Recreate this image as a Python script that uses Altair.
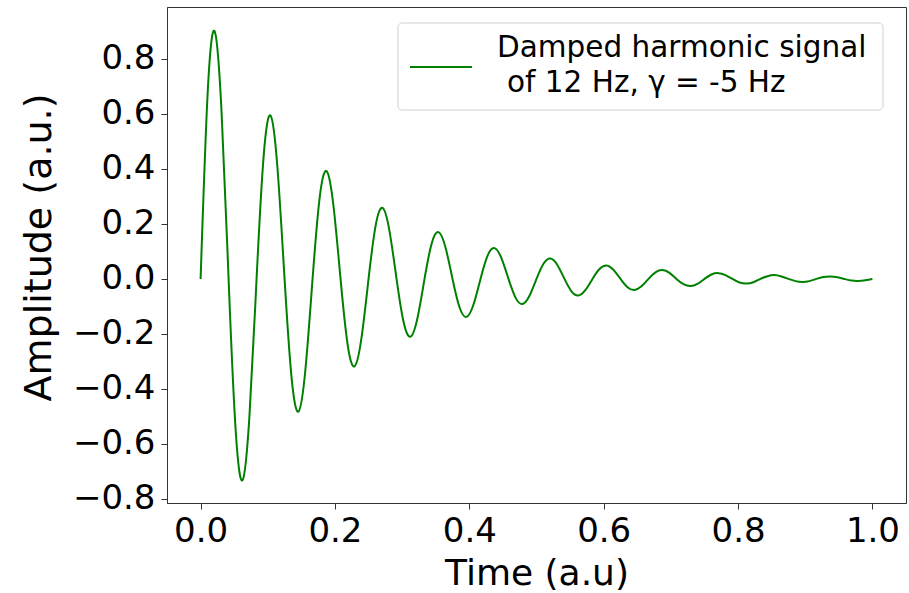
import altair as alt
import pandas as pd

# Samples, every 1/96 of the time axis
time_step = 1 / 96
amplitude = [
    0, 0.671, 0.901, 0.605, 0, -0.545, -0.732, -0.491,
    0, 0.443, 0.594, 0.399, 0, -0.359, -0.482, -0.324,
    0, 0.292, 0.392, 0.263, 0, -0.237, -0.318, -0.213,
    0, 0.192, 0.258, 0.173, 0, -0.156, -0.210, -0.141,
    0, 0.127, 0.170, 0.114, 0, -0.103, -0.138, -0.093,
    0, 0.084, 0.112, 0.075, 0, -0.068, -0.091, -0.061,
    0, 0.055, 0.074, 0.050, 0, -0.045, -0.060, -0.040,
    0, 0.036, 0.049, 0.033, 0, -0.030, -0.040, -0.027,
    0, 0.024, 0.032, 0.022, 0, -0.019, -0.026, -0.018,
    0, 0.016, 0.021, 0.014, 0, -0.013, -0.017, -0.012,
    0, 0.010, 0.014, 0.009, 0, -0.008, -0.011, -0.008,
    0, 0.007, 0.009, 0.006, 0, -0.006, -0.0075, -0.005,
    0,
]
time = [round(i * time_step, 5) for i in range(len(amplitude))]

x_ticks = [0.0, 0.2, 0.4, 0.6, 0.8, 1.0]
y_ticks = [-0.8, -0.6, -0.4, -0.2, 0.0, 0.2, 0.4, 0.6, 0.8]
legend_line1 = "Damped harmonic signal"
legend_line2 = "of 12 Hz, γ = -5 Hz"

df = pd.DataFrame({"t": time, "a": amplitude})

FONT = "DejaVu Sans"
W, H = 739, 496
LEFT, TOP = 167, 7

minus_expr = "replace(format(datum.value, '.1f'), '-', '\u2212')"

line = alt.Chart(df).mark_line(
    color="#008000", strokeWidth=2, interpolate="natural", clip=True
).encode(
    x=alt.X(
        "t:Q",
        scale=alt.Scale(domain=[-0.05, 1.05], nice=False, zero=False),
        axis=alt.Axis(
            values=x_ticks,
            labelExpr=minus_expr,
            labelPadding=5,
            title="Time (a.u)",
            titleY=81,
            titleFontSize=36,
            titleBaseline="alphabetic",
        ),
    ),
    y=alt.Y(
        "a:Q",
        scale=alt.Scale(domain=[-0.815, 0.989], nice=False, zero=False),
        axis=alt.Axis(
            values=y_ticks,
            labelExpr=minus_expr,
            title="Amplitude (a.u.)",
            titleX=-117,
            titleY=240,
            titleBaseline="alphabetic",
        ),
    ),
)

leg_df = pd.DataFrame({"k": [0]})
base = alt.Chart(leg_df)

# legend box positions are relative to the plot area origin
leg_box = base.mark_rect(
    fill="white", stroke="#cccccc", strokeWidth=1, cornerRadius=4, opacity=0.9
).encode(
    x=alt.value(398 - LEFT), x2=alt.value(883 - LEFT),
    y=alt.value(23 - TOP), y2=alt.value(110 - TOP),
)
leg_line = base.mark_rule(color="#008000", strokeWidth=2).encode(
    x=alt.value(410 - LEFT), x2=alt.value(472 - LEFT),
    y=alt.value(67 - TOP),
)
leg_t1 = base.mark_text(
    align="left", baseline="alphabetic", font=FONT, fontSize=29.5, color="black"
).encode(x=alt.value(497 - LEFT), y=alt.value(57 - TOP), text=alt.value(legend_line1))
leg_t2 = base.mark_text(
    align="left", baseline="alphabetic", font=FONT, fontSize=29.5, color="black"
).encode(x=alt.value(507 - LEFT), y=alt.value(92 - TOP), text=alt.value(legend_line2))

chart = alt.layer(line, leg_box, leg_line, leg_t1, leg_t2).properties(
    width=W,
    height=H,
    padding={"left": LEFT, "top": TOP, "right": 909 - LEFT - W, "bottom": 593 - TOP - H},
    autosize=alt.AutoSizeParams(type="none"),
    background="white",
).configure_view(
    stroke="#333333", strokeWidth=1
).configure_axis(
    grid=False,
    domainColor="#333333",
    domainWidth=1,
    tickColor="#333333",
    tickSize=6,
    tickWidth=1,
    labelFont=FONT,
    labelFontSize=34,
    labelColor="black",
    labelPadding=6,
    titleFont=FONT,
    titleFontSize=38,
    titleFontWeight="normal",
    titleColor="black",
    labelFlush=False,
    labelOverlap=False,
)

chart.save("out.html", embed_options={"renderer": "svg", "actions": False})
